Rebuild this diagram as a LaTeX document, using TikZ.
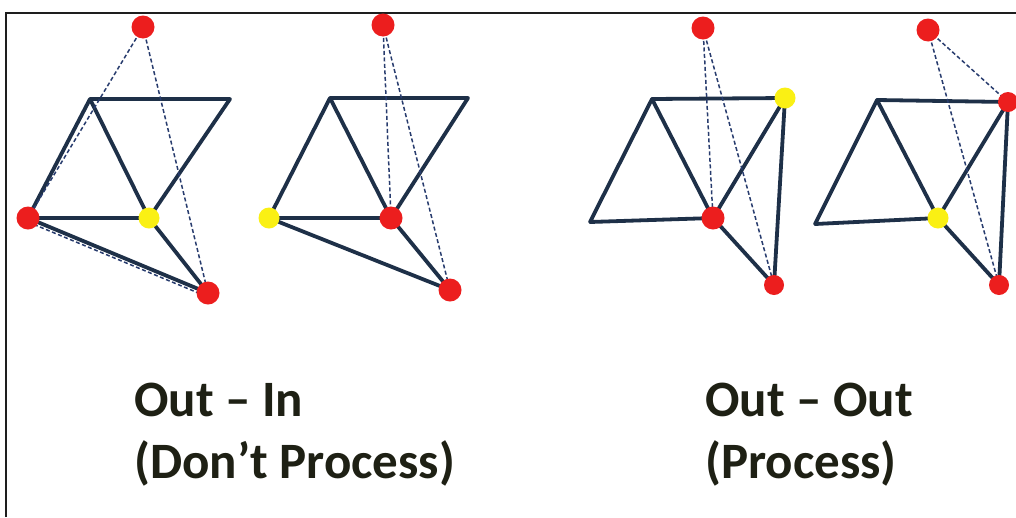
\documentclass[tikz,border=0pt]{standalone}
\usepackage{fontspec}
\setmainfont{Carlito}
\definecolor{edgecol}{RGB}{30,48,72}
\definecolor{dashcol}{RGB}{40,60,110}
\definecolor{dotred}{RGB}{236,30,30}
\definecolor{dotyellow}{RGB}{250,240,20}
\definecolor{framecol}{RGB}{30,30,30}
\definecolor{textcol}{RGB}{30,32,20}
\tikzset{
  solidedge/.style={draw=edgecol,line width=3.8pt,line cap=round,line join=round},
  dashedge/.style={draw=dashcol,line width=1.5pt,dash pattern=on 4pt off 2.5pt},
  reddot/.style={circle,fill=dotred,inner sep=0pt,minimum size=23pt},
  smallred/.style={circle,fill=dotred,inner sep=0pt,minimum size=20pt},
  yellowdot/.style={circle,fill=dotyellow,inner sep=0pt,minimum size=21pt},
  caption/.style={anchor=base west,inner sep=0pt,font=\fontsize{51}{56}\selectfont\bfseries,text=textcol},
}
\begin{document}
\begin{tikzpicture}[x=1pt,y=-1pt]
\useasboundingbox (0,0) rectangle (1016,517);
\fill[white] (0,0) rectangle (1016,517);
% frame
\coordinate (fa) at (6,517);
\coordinate (fb) at (6,13);
\coordinate (fc) at (1016,13);
\draw[framecol,line width=1.8pt] (fa) -- (fb) -- (fc);

% ---------- diagram 1 ----------
\coordinate (a0) at (143,27);
\coordinate (aTL) at (90,99);
\coordinate (aTR) at (230,99);
\coordinate (aL) at (28,218);
\coordinate (aM) at (149,218);
\coordinate (aB) at (208,293);
\draw[solidedge] (aL) -- (aTL) -- (aTR) -- (aM) -- (aL) -- (aB) -- (aM) -- (aTL);
\draw[dashedge] (a0) -- (aL);
\draw[dashedge] ([yshift=-4pt]aL) -- ([yshift=-4pt]aB);
\draw[dashedge] (a0) -- (aB);
\node[reddot] (na0) at (a0) {};
\node[reddot] (naL) at (aL) {};
\node[yellowdot] (naM) at (aM) {};
\node[reddot] (naB) at (aB) {};

% ---------- diagram 2 ----------
\coordinate (b0) at (383,25);
\coordinate (bTL) at (330,98);
\coordinate (bTR) at (468,98);
\coordinate (bL) at (269,218);
\coordinate (bM) at (391,218);
\coordinate (bB) at (450,290);
\draw[solidedge] (bL) -- (bTL) -- (bTR) -- (bM) -- (bL) -- (bB) -- (bM) -- (bTL);
\draw[dashedge] (b0) -- (bM);
\draw[dashedge] (b0) -- (bB);
\node[reddot] (nb0) at (b0) {};
\node[yellowdot] (nbL) at (bL) {};
\node[reddot] (nbM) at (bM) {};
\node[reddot] (nbB) at (bB) {};

% ---------- diagram 3 ----------
\coordinate (c0) at (703,28);
\coordinate (cTL) at (652,99);
\coordinate (cTR) at (785,98);
\coordinate (cL) at (590,222);
\coordinate (cM) at (713,218);
\coordinate (cB) at (774,285);
\draw[solidedge] (cL) -- (cTL) -- (cTR) -- (cM) -- (cL);
\draw[solidedge] (cTL) -- (cM) -- (cB) -- (cTR);
\draw[dashedge] (c0) -- (cM);
\draw[dashedge] (c0) -- (cB);
\node[reddot] (nc0) at (c0) {};
\node[yellowdot] (ncTR) at (cTR) {};
\node[reddot] (ncM) at (cM) {};
\node[smallred] (ncB) at (cB) {};

% ---------- diagram 4 ----------
\coordinate (d0) at (928,30);
\coordinate (dTL) at (877,100);
\coordinate (dTR) at (1008,102);
\coordinate (dL) at (815,224);
\coordinate (dM) at (938,218);
\coordinate (dB) at (999,285);
\draw[solidedge] (dL) -- (dTL) -- (dTR) -- (dM) -- (dL);
\draw[solidedge] (dTL) -- (dM) -- (dB) -- (dTR);
\draw[dashedge] (d0) -- (dTR);
\draw[dashedge] (d0) -- (dB);
\node[reddot] (nd0) at (d0) {};
\node[smallred] (ndTR) at (dTR) {};
\node[yellowdot] (ndM) at (dM) {};
\node[smallred] (ndB) at (dB) {};

% ---------- captions ----------
\node[caption] (t1) at (134,416) {Out – In};
\node[caption] (t2) at (134,478) {(Don’t Process)};
\node[caption] (t3) at (705,416) {Out – Out};
\node[caption] (t4) at (705,478) {(Process)};
\end{tikzpicture}
\end{document}
